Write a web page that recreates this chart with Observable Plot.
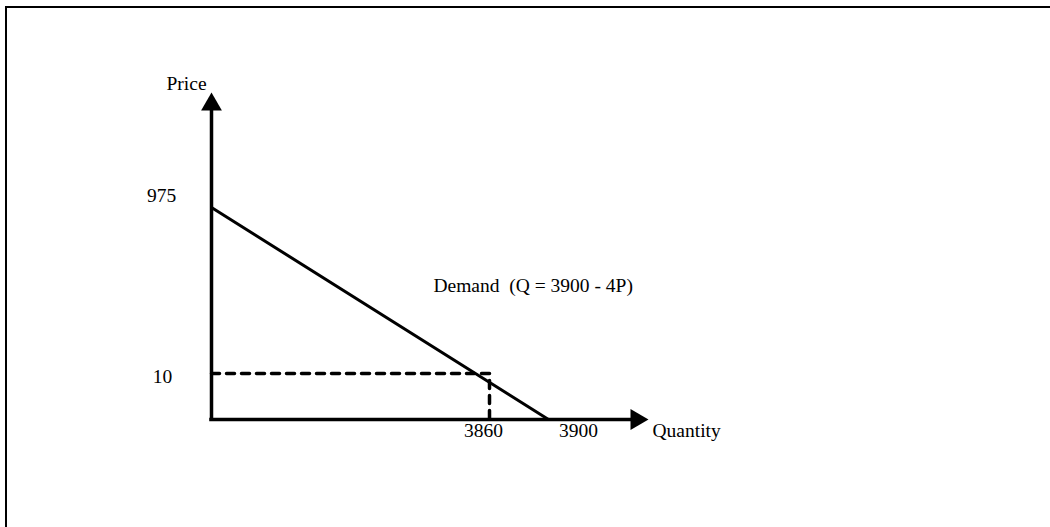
<!DOCTYPE html>
<html>
<head>
<meta charset="utf-8">
<script src="https://cdn.jsdelivr.net/npm/d3@7"></script>
<script src="https://cdn.jsdelivr.net/npm/@observablehq/plot@0.6"></script>
<style>
  html, body { margin: 0; padding: 0; background: #fff; overflow: hidden; }
  #border { position: absolute; left: 5px; top: 6px; width: 2000px; height: 2000px;
            border-top: 2px solid #000; border-left: 2px solid #000; pointer-events: none; }
  #chart { position: absolute; left: 0; top: 0; }
  #chart svg { overflow: visible; }
</style>
</head>
<body>
<div id="border"></div>
<div id="chart"></div>
<script>
// ---- data ----
const quantityTicks = [3860, 3900];          // marked quantities on the x axis
const priceTicks = [10, 975];                // marked prices on the y axis
const demandQ = [0, 3900];                   // demand line endpoints: quantity
const demandP = [975, 0];                    // demand line endpoints: price
const markedQ = 3860;                        // quantity at P = 10
const markedP = 10;
const axisEndQ = 4400;                       // schematic end of the quantity axis
const axisEndP = 1200;                       // schematic end of the price axis
const axisTitles = ["Price", "Quantity"];
const demandLabel = "Demand \u00a0(Q = 3900 - 4P)";

// ---- derived tables ----
const demand = demandQ.map((q, i) => ({q, p: demandP[i]}));
const dashed = [{q: 0, p: markedP}, {q: markedQ, p: markedP}, {q: markedQ, p: 0}];
const font = "'Liberation Serif', 'Times New Roman', serif";
const fs = 19.5;

const chart = Plot.plot({
  width: 1050,
  height: 527,
  style: {fontFamily: font, fontSize: fs + "px", background: "transparent", color: "#000"},
  x: {type: "linear", domain: [0, markedQ, 3900, axisEndQ], range: [211, 489, 548, 636], axis: null},
  y: {type: "linear", domain: [0, markedP, 975, axisEndP], range: [419, 373, 207, 104], axis: null},
  marks: [
    // axes
    Plot.ruleX([0], {y1: 0, y2: axisEndP, stroke: "#000", strokeWidth: 3.5, strokeLinecap: "square"}),
    Plot.ruleY([0], {x1: 0, x2: axisEndQ, stroke: "#000", strokeWidth: 3.5, strokeLinecap: "square"}),
    Plot.dot([0], {x: 0, y: axisEndP, symbol: "triangle", r: 7.72, fill: "#000", stroke: null}),
    Plot.dot([0], {x: axisEndQ, y: 0, symbol: "triangle", r: 7.72, fill: "#000", stroke: null, rotate: 90}),
    // dashed guide
    Plot.line(dashed, {x: "q", y: "p", stroke: "#000", strokeWidth: 3.5, strokeDasharray: "8,7", curve: "linear"}),
    // demand
    Plot.line(demand, {x: "q", y: "p", stroke: "#000", strokeWidth: 3}),
    // tick labels
    Plot.text([priceTicks[1]], {x: 0, y: d => d, text: d => String(d), dx: -50, dy: -11.5, fill: "#000", fontFamily: font, fontSize: fs}),
    Plot.text([priceTicks[0]], {x: 0, y: d => d, text: d => String(d), dx: -49, dy: 3.6, fill: "#000", fontFamily: font, fontSize: fs}),
    Plot.text([quantityTicks[0]], {x: d => d, y: 0, text: d => String(d), dx: -6, dy: 11, fill: "#000", fontFamily: font, fontSize: fs}),
    Plot.text([quantityTicks[1]], {x: d => d, y: 0, text: d => String(d), dx: 30, dy: 11, fill: "#000", fontFamily: font, fontSize: fs}),
    // axis titles
    Plot.text([axisTitles[0]], {x: 0, y: axisEndP, text: d => d, dx: -25, dy: -21, fill: "#000", fontFamily: font, fontSize: fs}),
    Plot.text([axisTitles[1]], {x: axisEndQ, y: 0, text: d => d, textAnchor: "start", dx: 16, dy: 11, fill: "#000", fontFamily: font, fontSize: fs}),
    // demand label
    Plot.text([demandLabel], {x: 3082, y: 518, text: d => d, textAnchor: "start", fill: "#000", fontFamily: font, fontSize: fs})
  ]
});
document.getElementById("chart").appendChild(chart);
</script>
</body>
</html>
